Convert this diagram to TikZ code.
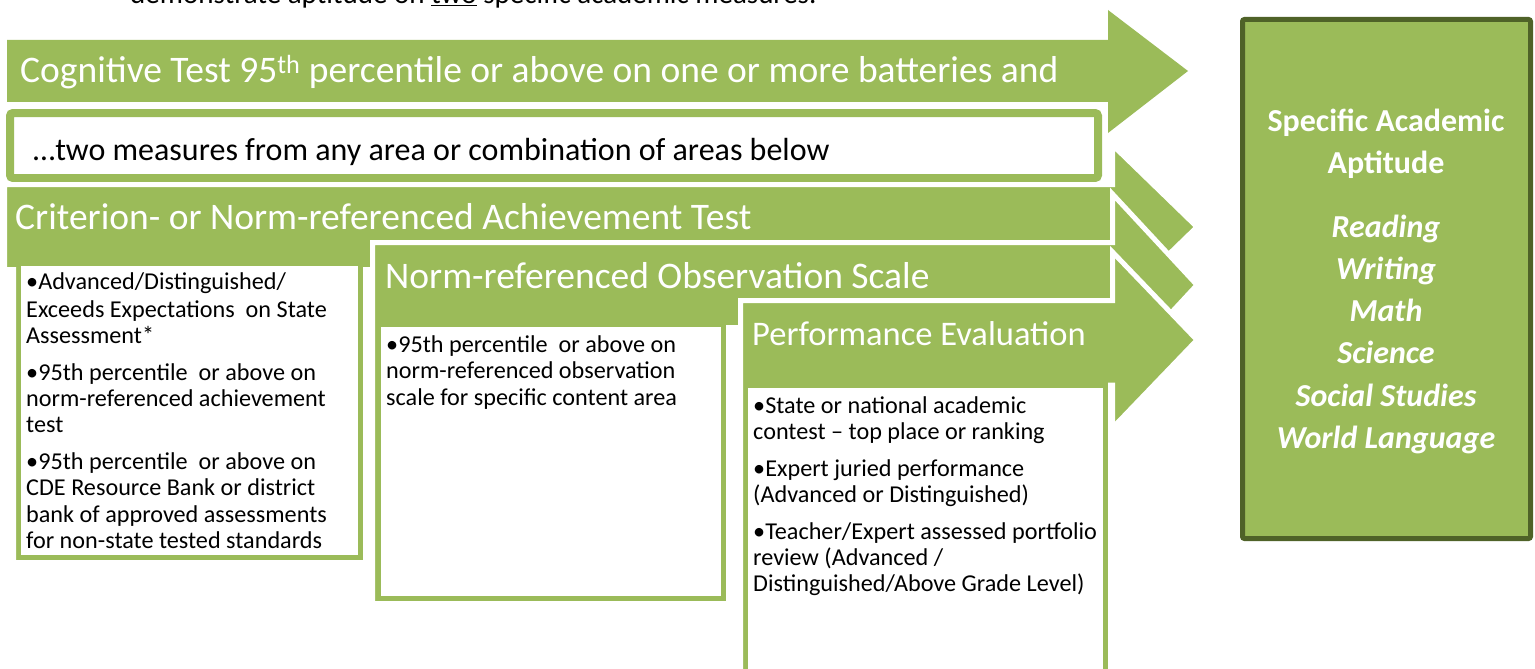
\documentclass[tikz,border=0pt]{standalone}
\usepackage{fontspec}
\setmainfont{Carlito}
\definecolor{ogreen}{HTML}{9BBB59}
\definecolor{dgreen}{HTML}{4F6228}
\newcommand{\fs}[1]{\fontsize{#1}{#1}\selectfont}
\begin{document}
\begin{tikzpicture}[x=1pt,y=-1pt,
  arrowshape/.style={fill=ogreen, draw=white, line width=5pt, line join=miter},
  head/.style={text=white, font=\fs{37.5}, anchor=base west, inner sep=0},
  item/.style={text=black, font=\fs{24.2}, anchor=base west, inner sep=0},
  side/.style={text=white, anchor=base, inner sep=0}]
\useasboundingbox (0,0) rectangle (1535,669);
\clip (0,0) rectangle (1535,669);
\fill[white] (0,0) rectangle (1535,669);
% cut-off intro line
\node[anchor=base west, inner sep=0, font=\fs{29}] (intro) at (130,4) {demonstrate aptitude on \underline{two} specific academic measures.};
% arrow A
\fill[ogreen] (7,40) -- (1108,40) -- (1108,10) -- (1188,71) -- (1108,133) -- (1108,102) -- (7,102) -- cycle;
% box two measures
\draw[ogreen, line width=8pt, fill=white, rounded corners=3pt] (10,113) rectangle (1098,178);
% arrow B
\draw[arrowshape] (13.5,562.5) -- (13.5,269.5) -- (4.5,269.5) -- (4.5,184.5) -- (1112.5,184.5) -- (1112.5,145) -- (1197,227) -- (1112.5,309) -- (1112.5,269.5) -- (365.5,269.5) -- (365.5,562.5) -- cycle;
\fill[white] (21,266) rectangle (358,555);
% arrow C
\draw[arrowshape] (372.5,603.5) -- (372.5,242.5) -- (1112.5,242.5) -- (1112.5,194) -- (1197,285) -- (1112.5,376) -- (1112.5,327.5) -- (728.5,327.5) -- (728.5,603.5) -- cycle;
\fill[white] (381,327) rectangle (721,596);
% arrow D
\draw[arrowshape] (740.5,690) -- (740.5,300.5) -- (1112.5,300.5) -- (1112.5,252) -- (1197,340) -- (1112.5,428) -- (1112.5,385) -- (1110.5,385) -- (1110.5,690) -- cycle;
\fill[white] (748,388) rectangle (1103,700);
% right box
\draw[dgreen, line width=5pt, fill=ogreen, rounded corners=2pt] (1242.5,19.5) rectangle (1530.5,538.5);
% headings
\node[head] (cog) at (20,83) {Cognitive Test 95\textsuperscript{th} percentile or above on one or more batteries and};
\node[anchor=base west, inner sep=0, font=\fs{32}] (two) at (33,160) {…two measures from any area or combination of areas below};
\node[head] (crit) at (15,229) {Criterion- or Norm-referenced Achievement Test};
\node[head] (norm) at (385,288) {Norm-referenced Observation Scale};
\node[head, font=\fs{34.5}] (perf) at (752,345) {Performance Evaluation};
% list B
\node[item] (b1) at (26,289) {•Advanced/Distinguished/};
\node[item] (b2) at (26,317) {Exceeds Expectations~ on State};
\node[item] (b3) at (26,343) {Assessment*};
\node[item] (b4) at (26,380) {•95th percentile~ or above on};
\node[item] (b5) at (26,406) {norm-referenced achievement};
\node[item] (b6) at (26,432) {test};
\node[item] (b7) at (26,469) {•95th percentile~ or above on};
\node[item] (b8) at (26,495) {CDE Resource Bank or district};
\node[item] (b9) at (26,522) {bank of approved assessments};
\node[item] (b10) at (26,548) {for non-state tested standards};
% list C
\node[item] (c1) at (386,352) {•95th percentile~ or above on};
\node[item] (c2) at (386,378) {norm-referenced observation};
\node[item] (c3) at (386,405) {scale for specific content area};
% list D
\node[item] (d1) at (753,413) {•State or national academic};
\node[item] (d2) at (753,439) {contest – top place or ranking};
\node[item] (d3) at (753,476) {•Expert juried performance};
\node[item] (d4) at (753,502) {(Advanced or Distinguished)};
\node[item] (d5) at (753,539) {•Teacher/Expert assessed portfolio};
\node[item] (d6) at (753,565) {review (Advanced /};
\node[item] (d7) at (753,591) {Distinguished/Above Grade Level)};
% right box text
\node[side, font=\bfseries\fs{32}] (s1) at (1386,131) {Specific Academic};
\node[side, font=\bfseries\fs{32}] (s2) at (1386,173) {Aptitude};
\node[side, font=\bfseries\itshape\fs{32}] (r1) at (1386,237) {Reading};
\node[side, font=\bfseries\itshape\fs{32}] (r2) at (1386,279) {Writing};
\node[side, font=\bfseries\itshape\fs{32}] (r3) at (1386,321) {Math};
\node[side, font=\bfseries\itshape\fs{32}] (r4) at (1386,363) {Science};
\node[side, font=\bfseries\itshape\fs{32}] (r5) at (1386,406) {Social Studies};
\node[side, font=\bfseries\itshape\fs{32}] (r6) at (1386,448) {World Language};
\end{tikzpicture}
\end{document}
